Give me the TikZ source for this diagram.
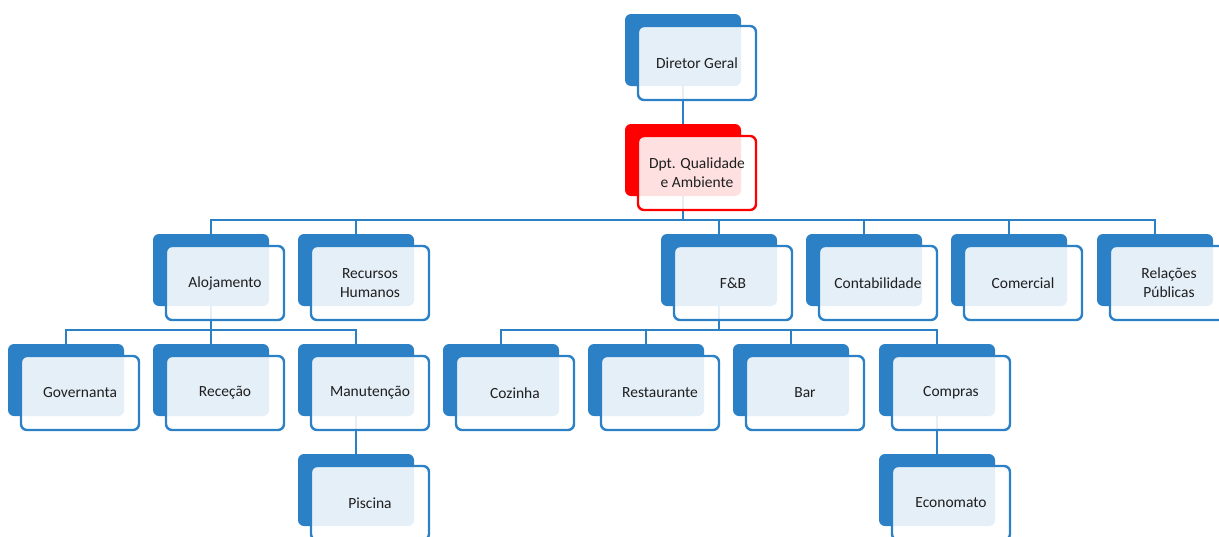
\documentclass[tikz,border=0pt]{standalone}
\usepackage{fontspec}
\setmainfont{Carlito}
\usetikzlibrary{backgrounds}
\definecolor{orgblue}{HTML}{2B80C6}
\definecolor{orgred}{HTML}{FF0000}
\tikzset{
  backbox/.style={draw=none, fill=#1, rounded corners=6pt,
    minimum width=116pt, minimum height=72pt, inner sep=0pt},
  frontbox/.style={draw=#1, line width=2.4pt, fill=white, fill opacity=0.88,
    text opacity=1, rounded corners=6pt, minimum width=118pt, minimum height=74pt,
    inner sep=0pt, align=center, text=black!88,
    font=\fontsize{15.5}{19}\selectfont},
  link/.style={draw=orgblue, line width=2.4pt},
}
% one unit of the chart: a solid back card and a lighter card on top of it
\newcommand\orgunit[4][orgblue]{%
  \node[backbox=#1] (#2) at (#3) {};
  \node[frontbox=#1] (#2f) at ([shift={(14,13)}]#2) {#4};
}
\begin{document}
\begin{tikzpicture}[x=1pt,y=-1pt]
\useasboundingbox (0,0) rectangle (1219,536);
\clip (0,0) rectangle (1219,536);

\orgunit{dg}{683,50}{Diretor Geral}
\orgunit[orgred]{dq}{683,160}{Dpt. Qualidade\\e Ambiente}

\orgunit{aloj}{211,270}{Alojamento}
\orgunit{rh}{356,270}{Recursos\\Humanos}
\orgunit{fb}{719,270}{F\&B}
\orgunit{cont}{864,270}{Contabilidade}
\orgunit{com}{1009,270}{Comercial}
\orgunit{rp}{1155,270}{Relações\\Públicas}

\orgunit{gov}{66,380}{Governanta}
\orgunit{rec}{211,380}{Receção}
\orgunit{man}{356,380}{Manutenção}
\orgunit{coz}{501,380}{Cozinha}
\orgunit{res}{646,380}{Restaurante}
\orgunit{bar}{791,380}{Bar}
\orgunit{cmp}{937,380}{Compras}

\orgunit{pis}{356,490}{Piscina}
\orgunit{eco}{937,490}{Economato}

\begin{pgfonlayer}{background}
  \draw[link] (dg.south) -- (dq.north);
  \foreach \c in {aloj,rh,fb,cont,com,rp}
    \draw[link] (dq.south) -- ++(0,24) -| (\c.north);
  \foreach \c in {gov,rec,man}
    \draw[link] (aloj.south) -- ++(0,24) -| (\c.north);
  \foreach \c in {coz,res,bar,cmp}
    \draw[link] (fb.south) -- ++(0,24) -| (\c.north);
  \draw[link] (man.south) -- (pis.north);
  \draw[link] (cmp.south) -- (eco.north);
\end{pgfonlayer}
\end{tikzpicture}
\end{document}
